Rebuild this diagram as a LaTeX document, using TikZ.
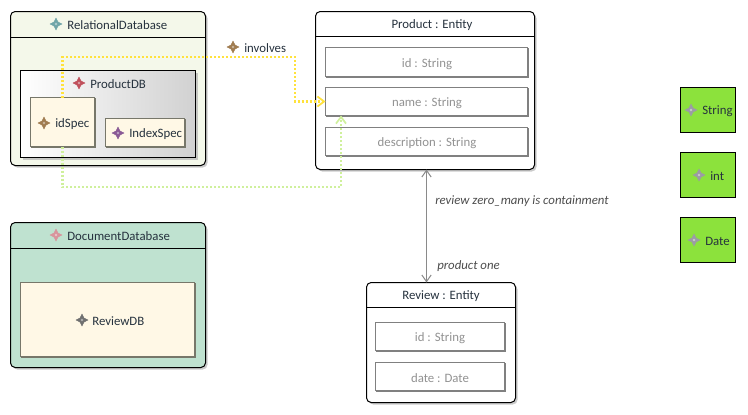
\documentclass[tikz,border=0pt]{standalone}
\usepackage{fontspec}
\setmainfont{Carlito}
\usetikzlibrary{shapes.geometric,arrows.meta,calc}
\definecolor{txt}{HTML}{26323E}
\definecolor{attrtxt}{HTML}{929292}
\definecolor{cream}{HTML}{FFF8E6}
\definecolor{creamline}{HTML}{77776A}
\definecolor{relfill}{HTML}{F4F8EA}
\definecolor{docfill}{HTML}{BFE2D0}
\definecolor{typefill}{HTML}{8CE23C}
\definecolor{linkyellow}{HTML}{FFE23C}
\definecolor{linkgreen}{HTML}{CFF09C}
\definecolor{shadowc}{HTML}{B4B4B4}
\definecolor{icteal}{HTML}{6FA5A8}
\definecolor{icred}{HTML}{C0505C}
\definecolor{icbrown}{HTML}{A07C50}
\definecolor{icviolet}{HTML}{8A5A96}
\definecolor{icpink}{HTML}{D8949C}
\definecolor{icgray}{HTML}{707070}
\definecolor{ictype}{HTML}{9C9CA4}
\definecolor{edgegray}{HTML}{8A8A8A}
\newcommand{\bx}[6]{\node[#1,minimum width={(#5-#3)*0.75pt},minimum height={(#6-#4)*0.75pt}] (#2) at ({(#3+#5)/2},{(#4+#6)/2}) {};}
\tikzset{
  base/.style={inner sep=0pt,outer sep=0pt,rectangle},
  softshadow/.style={preaction={fill=shadowc,fill opacity=.7,draw=none,transform canvas={shift={(1.5pt,-1.5pt)}}}},
  hardshadow/.style={preaction={fill=#1,draw=#1,transform canvas={shift={(.75pt,-.75pt)}}}},
  container/.style={base,draw=black,line width=.75pt,rounded corners=3.5pt,softshadow},
  entity/.style={container,fill=white},
  attrbox/.style={base,draw=gray,line width=.75pt,fill=white,hardshadow=gray},
  specbox/.style={base,draw=creamline,line width=.75pt,fill=cream,hardshadow=creamline},
  dbbox/.style={base,draw=black,line width=.75pt,left color=white,right color=black!18,softshadow},
  typebox/.style={base,draw=black,line width=.75pt,fill=typefill},
  lbl/.style={inner sep=0pt,font=\fontsize{9.6pt}{11pt}\selectfont,text=txt},
  attrlbl/.style={lbl,text=attrtxt},
  edgelbl/.style={lbl,font=\fontsize{9.6pt}{11pt}\selectfont\itshape,text=black!70},
  ico/.style={star,star points=4,star point ratio=2.1,minimum size=9pt,inner sep=0pt,draw=#1,line width=.3pt,fill=#1,
    path picture={\fill[white,opacity=.45] (path picture bounding box.center) circle (1.1pt);}},
  headrule/.style={black,line width=.75pt},
  refyellow/.style={draw=linkyellow,line width=1.6pt,dash pattern=on 1.5pt off 1.5pt,-{Straight Barb[length=5pt,width=7.5pt,line width=1.3pt]}},
  refgreen/.style={draw=linkgreen,line width=1.6pt,dash pattern=on 1.5pt off 1.5pt,-{Straight Barb[length=5pt,width=7.5pt,line width=1.3pt]}},
  contain/.style={draw=edgegray,line width=.75pt,{Straight Barb[length=5pt,width=7pt]}-{Straight Barb[length=5pt,width=7pt]}}
}
\begin{document}
\begin{tikzpicture}[x=.75pt,y=-.75pt]
\useasboundingbox (0,0) rectangle (748,414);
% containers
\bx{container,fill=relfill}{rel}{10.5}{11.5}{205.5}{165.5}
\draw[headrule] (rel.west |- 0,37.5) -- (rel.east |- 0,37.5);
\bx{container,fill=docfill}{doc}{10.5}{222.5}{205.5}{367.5}
\draw[headrule] (doc.west |- 0,248.5) -- (doc.east |- 0,248.5);
\bx{dbbox}{pdb}{20.5}{70.5}{195.5}{157.5}
\bx{specbox}{idspec}{30.5}{97.5}{94.5}{146.5}
\bx{specbox}{indexspec}{105.5}{118.5}{184.5}{146.5}
\bx{specbox}{rdb}{20.5}{282.5}{194.5}{356.5}
% entities
\bx{entity}{product}{315.5}{11.5}{534.5}{169.5}
\draw[headrule] (product.west |- 0,36.5) -- (product.east |- 0,36.5);
\bx{attrbox}{pid}{325.5}{47.5}{527.5}{76.5}
\bx{attrbox}{pname}{325.5}{87.5}{527.5}{115.5}
\bx{attrbox}{pdesc}{325.5}{127.5}{527.5}{155.5}
\bx{entity}{review}{366.5}{282.5}{515.5}{402.5}
\draw[headrule] (review.west |- 0,307.5) -- (review.east |- 0,307.5);
\bx{attrbox}{rid}{375.5}{322.5}{504.5}{350.5}
\bx{attrbox}{rdate}{375.5}{362.5}{504.5}{390.5}
% types
\bx{typebox}{tstring}{680.5}{87.5}{735.5}{132.5}
\bx{typebox}{tint}{680.5}{152.5}{735.5}{197.5}
\bx{typebox}{tdate}{680.5}{217.5}{735.5}{262.5}
% connectors
\coordinate (ybend) at (295,57);
\coordinate (gbend) at (341,187);
\draw[refyellow] (idspec.north) |- (ybend) |- (pname.west);
\draw[refgreen] (idspec.south) |- (gbend) -- (gbend |- pname.south);
\coordinate (gx) at (426.5,200);
\draw[contain] (gx |- product.south) -- (gx |- review.north);
% labels
\node[ico=icteal] (i1) at (56,24) {};
\node[lbl,anchor=west] (l1) at (67,25) {RelationalDatabase};
\node[ico=icred] (i2) at (79,83) {};
\node[lbl,anchor=west] (l2) at (90,84) {ProductDB};
\node[ico=icbrown] (i3) at (44,123) {};
\node[lbl,anchor=west] (l3) at (55,124) {idSpec};
\node[ico=icviolet] (i4) at (118,133) {};
\node[lbl,anchor=west] (l4) at (129,134) {IndexSpec};
\node[ico=icpink] (i5) at (56,235) {};
\node[lbl,anchor=west] (l5) at (67,236) {DocumentDatabase};
\node[ico=icgray] (i6) at (82,320) {};
\node[lbl,anchor=west] (l6) at (92,321) {ReviewDB};
\node[ico=icbrown] (i7) at (233,47) {};
\node[lbl,anchor=west] (l7) at (244,48) {involves};
\node[lbl] (l8) at (432,25) {Product : Entity};
\node[lbl] (l9) at (441,296) {Review : Entity};
\node[attrlbl] (a1) at (427,64) {id : String};
\node[attrlbl] (a2) at (427,103) {name : String};
\node[attrlbl] (a3) at (427,143) {description : String};
\node[attrlbl] (a4) at (440,338) {id : String};
\node[attrlbl] (a5) at (440,378) {date : Date};
\node[edgelbl,anchor=west] (e1) at (435,201) {review zero\_many is containment};
\node[edgelbl,anchor=west] (e2) at (437,266) {product one};
\node[ico=ictype] (i8) at (691,110) {};
\node[lbl,anchor=west] (t1) at (702,111) {String};
\node[ico=ictype] (i9) at (699,175) {};
\node[lbl,anchor=west] (t2) at (710,176) {int};
\node[ico=ictype] (i10) at (694,240) {};
\node[lbl,anchor=west] (t3) at (705,241) {Date};
\end{tikzpicture}
\end{document}
